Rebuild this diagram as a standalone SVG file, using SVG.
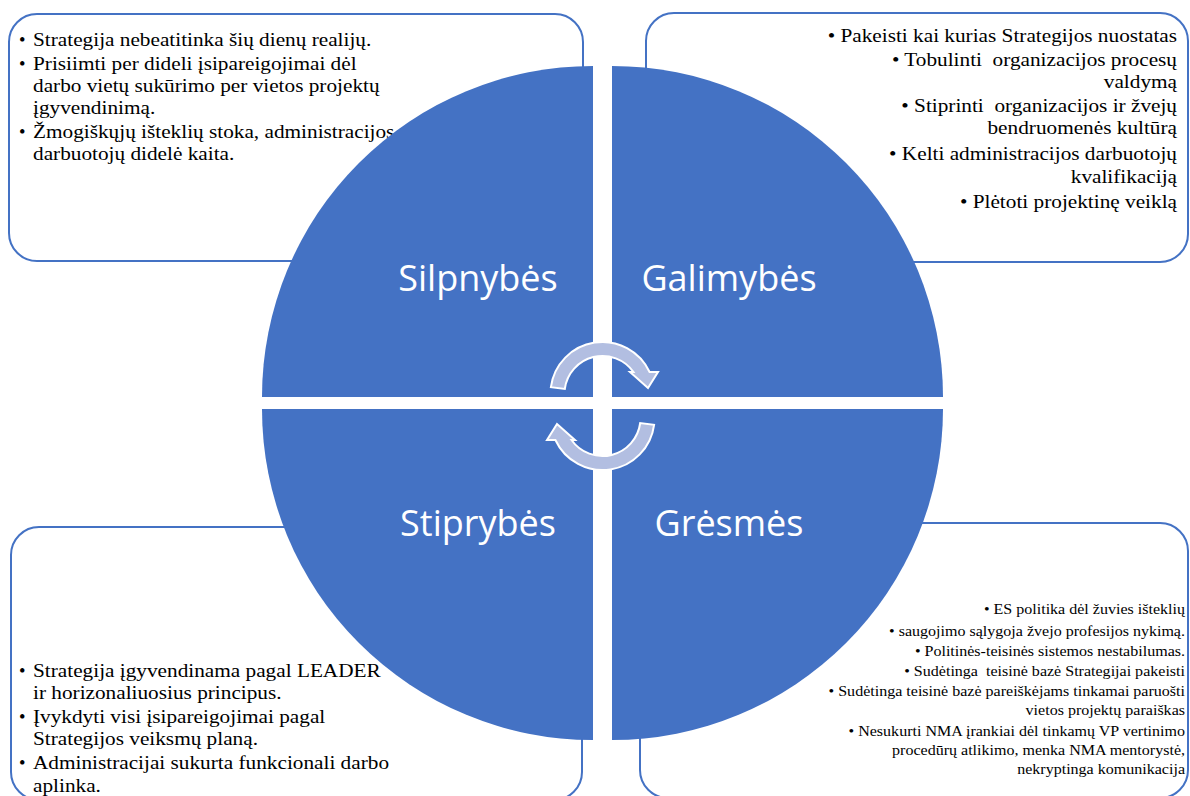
<svg xmlns="http://www.w3.org/2000/svg" width="1190" height="796" viewBox="0 0 1190 796">
<style>
.box{fill:#fff;stroke:#4472C4;stroke-width:2}
.q{fill:#4472C4}
.lbl{font-family:"Open Sans","Noto Sans",sans-serif;font-size:36px;fill:#fff;text-anchor:middle}
.t{font-family:"Liberation Serif","Times New Roman",serif;font-size:18.5px;fill:#000;white-space:pre}
.s{font-size:15px}
.e{text-anchor:end}
.arr{fill:#B2BEE1;stroke:#fff;stroke-width:2;stroke-linejoin:miter}
</style>
<defs>
<path id="cyc" d="M550.9,387.2 A52,52 0 0 1 649.6,372 L658,372 L648,388 L630,372 L633.5,372 A38,38 0 0 0 564.8,389 Z"/>
</defs>
<rect width="1190" height="796" fill="#fff"/>

<g id="box-silpnybes">
<rect class="box" x="9" y="14" width="574" height="247" rx="28"/>
<text class="t" x="19" y="46">•</text>
<text class="t" transform="translate(33,46) scale(1.15,1)">Strategija nebeatitinka šių dienų realijų.</text>
<text class="t" x="19" y="70">•</text>
<text class="t" transform="translate(33,70) scale(1.15,1)">Prisiimti per dideli įsipareigojimai dėl</text>
<text class="t" transform="translate(33,92) scale(1.15,1)">darbo vietų sukūrimo per vietos projektų</text>
<text class="t" transform="translate(33,114) scale(1.15,1)">įgyvendinimą.</text>
<text class="t" x="19" y="138">•</text>
<text class="t" transform="translate(33,138) scale(1.15,1)">Žmogiškųjų išteklių stoka, administracijos</text>
<text class="t" transform="translate(33,160) scale(1.15,1)">darbuotojų didelė kaita.</text>
</g>

<g id="box-galimybes">
<rect class="box" x="646" y="13" width="542" height="249" rx="28"/>
<text class="t e" transform="translate(1177,42) scale(1.15,1)">• Pakeisti kai kurias Strategijos nuostatas</text>
<text class="t e" transform="translate(1177,66) scale(1.15,1)">• Tobulinti  organizacijos procesų</text>
<text class="t e" transform="translate(1177,87.5) scale(1.15,1)">valdymą</text>
<text class="t e" transform="translate(1177,112) scale(1.15,1)">• Stiprinti  organizacijos ir žvejų</text>
<text class="t e" transform="translate(1177,134) scale(1.15,1)">bendruomenės kultūrą</text>
<text class="t e" transform="translate(1177,160) scale(1.15,1)">• Kelti administracijos darbuotojų</text>
<text class="t e" transform="translate(1177,183) scale(1.15,1)">kvalifikaciją</text>
<text class="t e" transform="translate(1177,208) scale(1.15,1)">• Plėtoti projektinę veiklą</text>
</g>

<g id="box-stiprybes">
<rect class="box" x="11" y="527" width="571" height="273" rx="28"/>
<text class="t" x="19" y="677">•</text>
<text class="t" transform="translate(33,677) scale(1.15,1)">Strategija įgyvendinama pagal LEADER</text>
<text class="t" transform="translate(33,698.5) scale(1.15,1)">ir horizonaliuosius principus.</text>
<text class="t" x="19" y="722.5">•</text>
<text class="t" transform="translate(33,722.5) scale(1.15,1)">Įvykdyti visi įsipareigojimai pagal</text>
<text class="t" transform="translate(33,744.5) scale(1.15,1)">Strategijos veiksmų planą.</text>
<text class="t" x="19" y="769">•</text>
<text class="t" transform="translate(33,769) scale(1.15,1)">Administracijai sukurta funkcionali darbo</text>
<text class="t" transform="translate(33,792) scale(1.15,1)">aplinka.</text>
</g>

<g id="box-gresmes">
<rect class="box" x="640" y="523" width="548" height="275" rx="28"/>
<text class="t s e" transform="translate(1185,614) scale(1.07,1)">• ES politika dėl žuvies išteklių</text>
<text class="t s e" transform="translate(1185,636) scale(1.07,1)">• saugojimo sąlygoja žvejo profesijos nykimą.</text>
<text class="t s e" transform="translate(1185,656) scale(1.07,1)">• Politinės-teisinės sistemos nestabilumas.</text>
<text class="t s e" transform="translate(1185,676) scale(1.07,1)">• Sudėtinga  teisinė bazė Strategijai pakeisti</text>
<text class="t s e" transform="translate(1185,696) scale(1.07,1)">• Sudėtinga teisinė bazė pareiškėjams tinkamai paruošti</text>
<text class="t s e" transform="translate(1185,715) scale(1.07,1)">vietos projektų paraiškas</text>
<text class="t s e" transform="translate(1185,736) scale(1.07,1)">• Nesukurti NMA įrankiai dėl tinkamų VP vertinimo</text>
<text class="t s e" transform="translate(1185,755) scale(1.07,1)">procedūrų atlikimo, menka NMA mentorystė,</text>
<text class="t s e" transform="translate(1185,774) scale(1.07,1)">nekryptinga komunikacija</text>
</g>

<g id="q-silpnybes">
<path class="q" d="M593,397 L262,397 A331,331 0 0 1 593,66 Z"/>
<text class="lbl" x="478" y="291">Silpnybės</text>
</g>
<g id="q-galimybes">
<path class="q" d="M612,397 L612,66 A331,331 0 0 1 943,397 Z"/>
<text class="lbl" x="729" y="291">Galimybės</text>
</g>
<g id="q-stiprybes">
<path class="q" d="M593,409 L593,740 A331,331 0 0 1 262,409 Z"/>
<text class="lbl" x="478" y="536">Stiprybės</text>
</g>
<g id="q-gresmes">
<path class="q" d="M612,409 L943,409 A331,331 0 0 1 612,740 Z"/>
<text class="lbl" x="729" y="536">Grėsmės</text>
</g>

<g id="connectors">
<use href="#cyc" class="arr"/>
<use href="#cyc" class="arr" transform="rotate(180 602.5 406)"/>
</g>
</svg>
